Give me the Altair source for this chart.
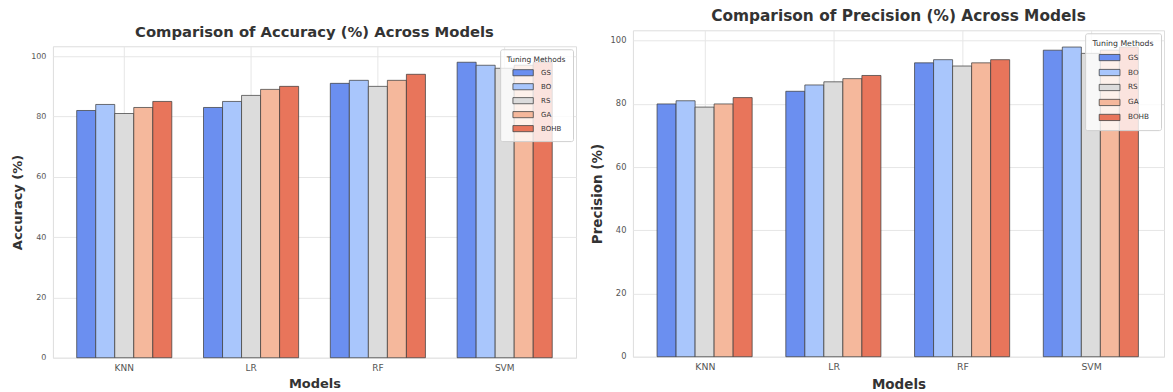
import altair as alt
import pandas as pd

models = ["KNN", "LR", "RF", "SVM"]
methods = ["GS", "BO", "RS", "GA", "BOHB"]
colors = ["#6b8ff0", "#a9c6fc", "#dcdcdc", "#f5b89c", "#e8755b"]

# Accuracy (%) per tuning method, in model order KNN, LR, RF, SVM
acc_gs = [82, 83, 91, 98]
acc_bo = [84, 85, 92, 97]
acc_rs = [81, 87, 90, 96]
acc_ga = [83, 89, 92, 97]
acc_bohb = [85, 90, 94, 98]

# Precision (%) per tuning method
prec_gs = [80, 84, 93, 97]
prec_bo = [81, 86, 94, 98]
prec_rs = [79, 87, 92, 96]
prec_ga = [80, 88, 93, 97]
prec_bohb = [82, 89, 94, 98]

y_ticks = [0, 20, 40, 60, 80, 100]


def to_frame(series):
    rows = []
    for method, vals in zip(methods, series):
        for model, v in zip(models, vals):
            rows.append({"Model": model, "Method": method, "Value": v})
    return pd.DataFrame(rows)


acc_df = to_frame([acc_gs, acc_bo, acc_rs, acc_ga, acc_bohb])
prec_df = to_frame([prec_gs, prec_bo, prec_rs, prec_ga, prec_bohb])

FONT = "DejaVu Sans"


def panel(df, ytitle, title_text, title_size, ymax, width, height, k):
    return alt.Chart(df).mark_bar(
        stroke="#3a3a3a", strokeWidth=0.9, strokeOpacity=0.8
    ).encode(
        x=alt.X(
            "Model:N", sort=models,
            scale=alt.Scale(paddingInner=0.25, paddingOuter=0.1875),
            axis=alt.Axis(
                title="Models", labelAngle=0, bandPosition=0.5, grid=True,
                ticks=False, domain=False, labelFontSize=9 * k, labelColor="#555555",
                labelPadding=6, titleFontSize=13 * k, titleFontWeight="bold",
                titleColor="#333333", titlePadding=5, gridColor="#e6e6e6",
                labelFont=FONT, titleFont=FONT,
            ),
        ),
        xOffset=alt.XOffset("Method:N", sort=methods,
                            scale=alt.Scale(paddingInner=0, paddingOuter=0)),
        y=alt.Y(
            "Value:Q",
            scale=alt.Scale(domain=[0, ymax], nice=False, zero=True),
            axis=alt.Axis(
                title=ytitle, values=y_ticks, ticks=False, domain=False,
                labelFontSize=8 * k, labelColor="#555555", labelPadding=7,
                titleFontSize=13 * k, titleFontWeight="bold", titleColor="#333333",
                titlePadding=6, gridColor="#e6e6e6", labelFont=FONT, titleFont=FONT,
            ),
        ),
        color=alt.Color(
            "Method:N", sort=methods,
            scale=alt.Scale(domain=methods, range=colors),
            legend=alt.Legend(
                title="Tuning Methods", orient="top-right", offset=3,
                fillColor="rgba(255,255,255,0.8)", strokeColor="#d0d0d0",
                cornerRadius=2, padding=7, titleFontSize=7.5 * k,
                titleFontWeight="normal", titleColor="#333333", titleFont=FONT,
                labelFont=FONT, labelFontSize=7 * k, labelColor="#333333",
                titlePadding=0, labelOffset=9, titleAnchor="middle",
                symbolOffset=4,
                symbolType="M-1.2,-0.36L1.2,-0.36L1.2,0.36L-1.2,0.36Z",
                symbolSize=289 * k,
                symbolStrokeColor="#444444", symbolStrokeWidth=0.8,
                rowPadding=-1.3, symbolOpacity=1,
            ),
        ),
    ).properties(width=width, height=height, title=alt.TitleParams(
        title_text, fontSize=title_size, font=FONT, fontWeight="bold",
        color="#333333", offset=6))


left = panel(acc_df, "Accuracy (%)", "Comparison of Accuracy (%) Across Models",
             14.8, 103.3, 524, 312, 1.0)
right = panel(prec_df, "Precision (%)", "Comparison of Precision (%) Across Models",
              15.4, 103.3, 532, 327, 1.04)

# invisible spacer that lowers the left panel relative to the right one
spacer = alt.Chart(pd.DataFrame({"s": [0]})).mark_point(opacity=0).encode(
    x=alt.value(0), y=alt.value(0)
).properties(width=524, height=1, view=alt.ViewBackground(stroke="transparent"))

left_col = alt.vconcat(spacer, left, spacing=15, bounds="flush").resolve_scale(
    color="independent"
).resolve_legend(color="independent")

chart = alt.hconcat(left_col, right, spacing=12).resolve_scale(
    color="independent"
).resolve_legend(color="independent").properties(
    padding={"left": 3, "top": 0, "right": 0, "bottom": 0}
).configure_view(stroke="#d8d8d8", strokeWidth=1).configure(background="white")

chart.save("out.html", embed_options={"renderer": "svg", "actions": False})
